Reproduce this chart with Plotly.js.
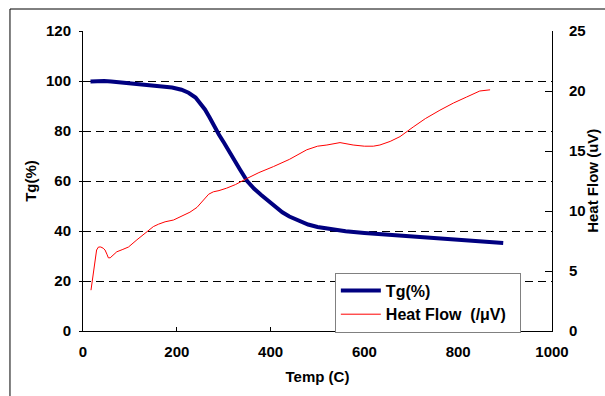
<!DOCTYPE html>
<html>
<head>
<meta charset="utf-8">
<script src="https://cdn.plot.ly/plotly-3.0.1.min.js"></script>
<style>html,body{margin:0;padding:0;background:#fff;}#chart{width:605px;height:396px;}</style>
</head>
<body>
<div id="chart"></div>
<script>
// Tg (%) curve
var tgTemp = [16, 30, 45, 60, 80, 100, 130, 160, 190, 210, 225, 240, 250, 260, 270, 280, 290, 300, 310, 320, 335, 350, 365, 380, 395, 410, 425, 440, 460, 480, 500, 530, 560, 600, 650, 700, 750, 800, 850, 896];
var tgVal = [99.8, 100, 100, 99.8, 99.4, 99.0, 98.6, 98.1, 97.4, 96.5, 95.3, 93.4, 91.0, 88.6, 85.4, 81.5, 78.5, 75.5, 72.2, 69.3, 64.5, 60.0, 56.9, 54.4, 52.0, 49.6, 47.5, 45.8, 44.0, 42.6, 41.6, 40.6, 39.9, 39.2, 38.5, 37.9, 37.0, 36.2, 35.7, 35.2];
// Heat flow curve
var hfTemp = [17, 20, 22, 25, 29, 33, 38, 43, 47, 51, 54, 58, 61, 66, 72, 85, 97, 115, 136, 150, 161, 175, 193, 210, 228, 243, 257, 268, 278, 290, 306, 325, 349, 375, 406, 440, 477, 500, 520, 548, 576, 600, 619, 633, 655, 676, 704, 730, 761, 790, 818, 846, 868];
var hfVal = [3.4, 4.3, 4.9, 6.0, 6.75, 7.0, 7.0, 6.9, 6.75, 6.4, 6.1, 6.1, 6.2, 6.4, 6.6, 6.8, 7.0, 7.6, 8.3, 8.7, 8.9, 9.1, 9.25, 9.6, 9.9, 10.3, 10.9, 11.4, 11.6, 11.7, 11.9, 12.2, 12.7, 13.2, 13.7, 14.3, 15.1, 15.4, 15.5, 15.7, 15.5, 15.4, 15.4, 15.5, 15.8, 16.2, 17.0, 17.7, 18.4, 19.0, 19.5, 20.0, 20.1];
// Tick labels
var xTicks = [0, 200, 400, 600, 800, 1000];
var yTicks = [0, 20, 40, 60, 80, 100, 120];
var y2Ticks = [0, 5, 10, 15, 20, 25];

var fnt = {family: 'Liberation Sans, Arial, sans-serif', size: 15, color: '#000', weight: 'bold'};
var legFnt = {family: 'Liberation Sans, Arial, sans-serif', size: 16, color: '#000', weight: 'bold'};

var traces = [
  {x: tgTemp, y: tgVal, name: 'Tg(%)', mode: 'lines', line: {color: '#000080', width: 4}, yaxis: 'y'},
  {x: hfTemp, y: hfVal, name: 'Heat Flow  (/\u03bcV)\u00a0\u00a0', mode: 'lines', line: {color: '#ff0000', width: 1}, yaxis: 'y2'}
];

var layout = {
  width: 605, height: 396,
  margin: {l: 83, r: 53, t: 31, b: 65},
  paper_bgcolor: '#fff', plot_bgcolor: '#fff',
  font: fnt,
  showlegend: true,
  legend: {x: 0.537, y: 0.195, xanchor: 'left', yanchor: 'top', bgcolor: '#fff', bordercolor: '#808080', borderwidth: 1, font: legFnt, tracegroupgap: 0, itemwidth: 40},
  xaxis: {
    range: [0, 1000], tickvals: xTicks, ticktext: xTicks.map(String),
    showgrid: false, zeroline: false, showline: true, linecolor: '#000', linewidth: 1,
    ticks: 'inside', ticklen: 4, tickcolor: '#000', ticklabelstandoff: 7,
    title: {text: 'Temp (C)', font: fnt, standoff: 12},
    tickfont: fnt
  },
  yaxis: {
    range: [0, 120], tickvals: yTicks, ticktext: yTicks.map(String),
    showgrid: true, gridcolor: '#000', gridwidth: 1, griddash: '8px,5px',
    zeroline: false, showline: true, linecolor: '#000', linewidth: 1,
    ticks: 'outside', ticklen: 3, tickcolor: '#000', ticklabelstandoff: 5,
    title: {text: 'Tg(%)', font: fnt, standoff: 5},
    tickfont: fnt
  },
  yaxis2: {
    range: [0, 25], tickvals: y2Ticks, ticktext: y2Ticks.map(String),
    overlaying: 'y', side: 'right', showgrid: false, zeroline: false,
    showline: true, linecolor: '#000', linewidth: 1,
    ticks: 'inside', ticklen: 7, tickcolor: '#000', ticklabelstandoff: 13,
    tickfont: fnt
  },
  annotations: [
    {text: 'Heat Flow (uV)', xref: 'paper', yref: 'paper', x: 1.085, y: 0.5, xanchor: 'center', yanchor: 'middle', textangle: -90, showarrow: false, font: fnt}
  ],
  shapes: [
    {type: 'line', xref: 'paper', yref: 'paper', x0: -0.1557, x1: -0.1557, y0: 1.0733, y1: -0.3, line: {color: '#000', width: 1}},
    {type: 'line', xref: 'paper', yref: 'paper', x0: -0.1557, x1: 1.2, y0: 1.0733, y1: 1.0733, line: {color: '#000', width: 1}}
  ]
};

Plotly.newPlot('chart', traces, layout, {displayModeBar: false, staticPlot: true});
</script>
</body>
</html>
